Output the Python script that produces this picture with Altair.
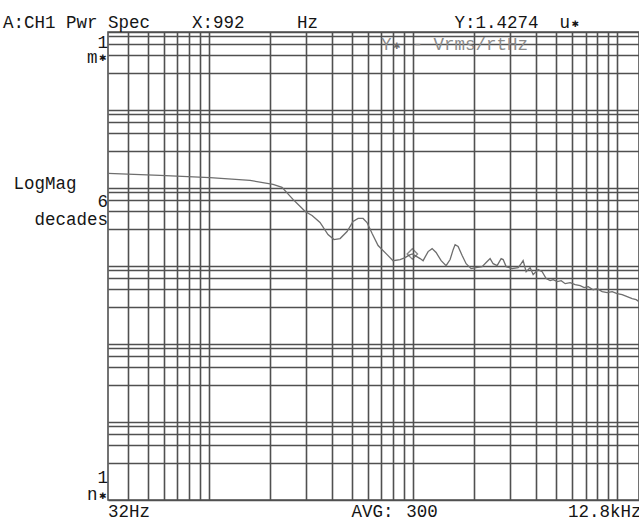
import altair as alt
import pandas as pd

# ---- data (frequency in Hz, level in uVrms/rtHz) ----
freq_hz = [32, 57.5, 101.2, 159, 206, 228, 258, 280, 296, 320, 350, 383, 410, 439, 475,
           508, 538, 569, 595, 630, 674, 746, 798, 864, 914, 957, 992, 1023, 1083, 1120,
           1185, 1240, 1297, 1373, 1452, 1519, 1572, 1607, 1663, 1740, 1820, 1925, 2037,
           2180, 2307, 2386, 2469, 2582, 2702, 2764, 2859, 3059, 3273, 3386, 3463, 3582,
           3748, 3877, 4102, 4292, 4490, 4698, 4861, 5086, 5321, 5566, 5889, 6230, 6592,
           6894, 7213, 7632, 7985, 8449, 8939, 9457, 10004, 10585, 11199, 11849, 12397, 12800]
level_uv = [15.41, 14.52, 13.56, 12.52, 11.12, 10.18, 7.14, 5.80, 5.00, 4.44, 3.61, 2.53,
            2.18, 2.25, 2.77, 3.72, 4.07, 4.07, 3.61, 2.61, 1.83, 1.40, 1.17, 1.21, 1.28,
            1.38, 1.4274, 1.36, 1.245, 1.17, 1.53, 1.67, 1.49, 1.17, 1.01, 1.21, 1.62, 1.88,
            1.78, 1.36, 1.07, 0.926, 0.954, 0.982, 1.14, 1.245, 1.07, 1.01, 1.245, 1.21,
            0.982, 0.926, 0.954, 1.07, 1.17, 0.847, 0.954, 0.775, 0.899, 0.847, 0.689,
            0.649, 0.669, 0.631, 0.649, 0.594, 0.612, 0.577, 0.560, 0.528, 0.544, 0.497,
            0.512, 0.469, 0.455, 0.469, 0.442, 0.429, 0.404, 0.381, 0.370, 0.349]

marker_freq = [992]
marker_level = [1.4274]

x_grid = [40, 50, 60, 70, 80, 90, 100, 200, 300, 400, 500, 600, 700, 800, 900,
          1000, 2000, 3000, 4000, 5000, 6000, 7000, 8000, 9000, 10000]
y_decades = [0.001, 0.01, 0.1, 1, 10, 100]
y_steps = [1, 3, 5, 7, 9]
y_grid = [d * s for d in y_decades for s in y_steps] + [1000]

FONT = "Liberation Mono"
FS = 17.5
CH = 10.5          # character cell width of the monospace screen font
X0 = 3 - 108       # left edge of character column 0, relative to the plot area
TOP = 32
GRID = "#505050"
INK = "#151515"

df = pd.DataFrame({"f": freq_hz, "v": level_uv})
xs = alt.Scale(type="log", domain=[32, 12800], nice=False)
ys = alt.Scale(type="log", domain=[0.001, 1000], nice=False)

curve = alt.Chart(df).mark_line(color="#6e6e6e", strokeWidth=1.3, clip=True).encode(
    x=alt.X("f:Q", scale=xs,
            axis=alt.Axis(values=x_grid, grid=True, labels=False, ticks=False,
                          domain=False, title=None, gridColor=GRID, gridWidth=1.6)),
    y=alt.Y("v:Q", scale=ys,
            axis=alt.Axis(values=y_grid, grid=True, labels=False, ticks=False,
                          domain=False, title=None, gridColor=GRID, gridWidth=1.6)),
)

marker = alt.Chart(pd.DataFrame({"f": marker_freq, "v": marker_level})).mark_point(
    shape="diamond", size=110, filled=False, color="#555", strokeWidth=1.3
).encode(x=alt.X("f:Q", scale=xs), y=alt.Y("v:Q", scale=ys))


def label(txt, col, baseline_y, color=INK):
    return alt.Chart(pd.DataFrame({"t": [txt]})).mark_text(
        font=FONT, fontSize=FS, align="left", baseline="alphabetic", color=color
    ).encode(text="t:N", x=alt.value(X0 + col * CH), y=alt.value(baseline_y - TOP))


def star(col, baseline_y, color=INK):
    # small filled asterisk used by the analyser after unit prefixes
    return alt.Chart(pd.DataFrame({"t": ["✱"]})).mark_text(
        font="DejaVu Sans", fontSize=9, align="center", baseline="middle", color=color
    ).encode(text="t:N", x=alt.value(X0 + col * CH + CH / 2),
             y=alt.value(baseline_y - TOP - 4.5))


texts = [
    label("A:CH1 Pwr Spec", 0, 28),
    label("X:992", 18, 28),
    label("Hz", 28, 28),
    label("Y:1.4274", 43, 28),
    label("u", 53, 28), star(54, 28),
    label("Y", 36, 50, color="#8a8a8a"), star(37, 50, color="#6a6a6a"),
    label("- Vrms/rtHz", 39, 50, color="#8a8a8a"),
    label("1", 9, 47.5),
    label("m", 8, 62.5), star(9, 62.5),
    label("LogMag", 1, 188.5),
    label("6", 9, 206.5),
    label("decades", 3, 225),
    label("1", 9, 483),
    label("n", 8, 500), star(9, 500),
    label("32Hz", 10, 517),
    label("AVG:", 33.2, 517),
    label("300", 38.4, 517),
    label("12.8kHz", 53.8, 517),
]

chart = alt.layer(curve, marker, *texts).properties(
    width=531, height=468,
    padding={"left": 108, "top": TOP, "right": 0, "bottom": 22},
    autosize="none",
    background="white",
).configure_view(stroke=GRID, strokeWidth=1.6)

chart.save("out.html", embed_options={"renderer": "svg", "actions": False})
